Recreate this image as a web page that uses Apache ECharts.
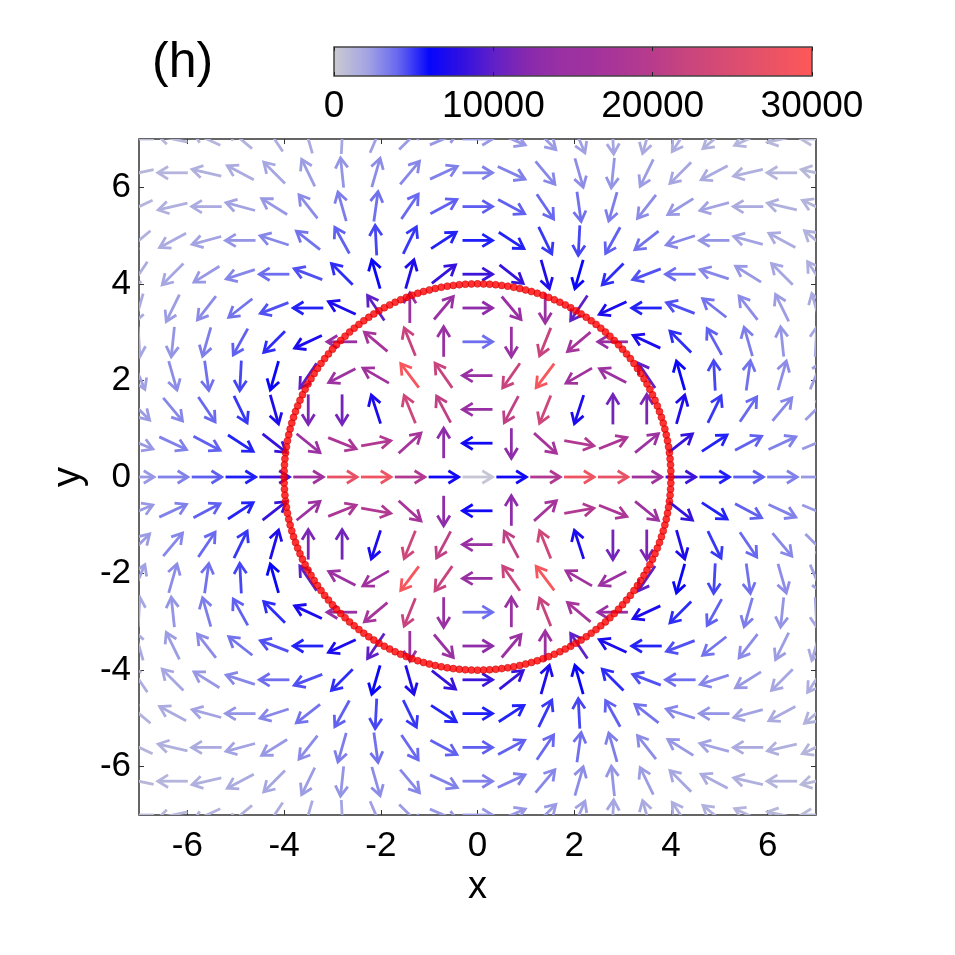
<!DOCTYPE html>
<html>
<head>
<meta charset="utf-8">
<title>(h)</title>
<script src="https://cdn.jsdelivr.net/npm/echarts@6/dist/echarts.min.js"></script>
<style>
  html, body { margin: 0; padding: 0; background: #fff; }
  #chart { width: 955px; height: 955px; }
</style>
</head>
<body>
<div id="chart"></div>
<script>
// grid positions of one quadrant (x >= 0, y >= 0); the other three are mirror images
var gridCoords = [0, 0.7, 1.4, 2.1, 2.8, 3.5, 4.2, 4.9, 5.6, 6.3, 7];

// arrow direction in degrees (0 = +x, 90 = +y), row = y index, column = x index
var quadAngle = [
  [0, 0, 0, 0, 0, 0, 0, 0, 0, 0, 0],
  [180, -90, -42, -10, 22, 39, 38, 33, 28, 25, 23],
  [180, -118, -112, -108, 90, 90, 74, 64, 56, 50, 45],
  [180, -125, -127, -150, 153, 124, 106, 93, 82, 74, 67],
  [0, -90, -112, -140, 180, 155, 135, 119, 106, 96, 87],
  [0, -50, -90, -124, -155, 180, 159, 142, 128, 116, 106],
  [0, -38, -74, -106, -135, -159, 180, 162, 148, 135, 124],
  [0, -33, -64, -93, -119, -142, -162, 180, 165, 152, 140],
  [0, -28, -56, -82, -106, -128, -148, -165, 180, 167, 155],
  [0, -25, -50, -74, -96, -116, -135, -152, -167, 180, 168],
  [0, -23, -45, -67, -87, -106, -124, -140, -155, -168, 180]
];

// magnitude, same layout
var quadMag = [
  [200, 6500, 19000, 28000, 27000, 16000, 8500, 5500, 4200, 3200, 2450],
  [6500, 13000, 17000, 19000, 18000, 15000, 8300, 5400, 4150, 3200, 2450],
  [14000, 21000, 23000, 7000, 11000, 11500, 7200, 5000, 4000, 3000, 2350],
  [14000, 22000, 29000, 16000, 15000, 10000, 6200, 4700, 3700, 2800, 2200],
  [3800, 14500, 22000, 17000, 14000, 7000, 5200, 4150, 3300, 2550, 2000],
  [13000, 14500, 15000, 10000, 7000, 5400, 4500, 3650, 2850, 2300, 1800],
  [8500, 8300, 7200, 6200, 5200, 4500, 3800, 3000, 2450, 2000, 1600],
  [5500, 5400, 5000, 4700, 4150, 3650, 3000, 2550, 2100, 1700, 1400],
  [4200, 4150, 4000, 3700, 3300, 2850, 2450, 2100, 1750, 1450, 1200],
  [3200, 3200, 3000, 2800, 2550, 2300, 2000, 1700, 1450, 1200, 1050],
  [2450, 2450, 2350, 2200, 2000, 1800, 1600, 1400, 1200, 1050, 900]
];

var axisTicks = [-6, -4, -2, 0, 2, 4, 6];
var colorbarMin = 0;
var colorbarMax = 30000;
// colormap, evenly spaced from 0 to 30000
var colorbarColors = [
  '#cacad2', '#a6a6e2', '#6868f0', '#0606fc', '#3010e0', '#6020c8',
  '#8628ae', '#9830a4', '#a0329e', '#ac3696', '#b83c8c', '#c8447e',
  '#d44a76', '#e0506c', '#ee5462', '#ff5858'
];
var circleRadius = 4;
var circleDots = 200;

var FONT = 'Liberation Sans';

// full grid from the quadrant: mirroring x or y flips the angle sign
var arrowData = [];
[-1, 1].forEach(function (sx) {
  [-1, 1].forEach(function (sy) {
    for (var j = 0; j < gridCoords.length; j++) {
      for (var i = 0; i < gridCoords.length; i++) {
        if (sx < 0 && i === 0) continue;
        if (sy < 0 && j === 0) continue;
        arrowData.push([sx * gridCoords[i], sy * gridCoords[j],
          sx * sy * quadAngle[j][i], quadMag[j][i]]);
      }
    }
  });
});

var circleData = [];
for (var k = 0; k < circleDots; k++) {
  var t = 2 * Math.PI * k / circleDots;
  circleData.push([circleRadius * Math.cos(t), circleRadius * Math.sin(t)]);
}

function renderArrow(params, api) {
  var c = api.coord([api.value(0), api.value(1)]);
  var a = api.value(2) * Math.PI / 180;
  var dx = Math.cos(a), dy = -Math.sin(a);
  var half = 15, head = 12, spread = 0.55;
  var tail = [c[0] - dx * half, c[1] - dy * half];
  var tip = [c[0] + dx * half, c[1] + dy * half];
  var back = Math.atan2(dy, dx) + Math.PI;
  function barb(s) {
    return [tip[0] + head * Math.cos(back + s * spread), tip[1] + head * Math.sin(back + s * spread)];
  }
  var color = api.visual('color');
  return {
    type: 'group',
    children: [
      { type: 'line', shape: { x1: tail[0], y1: tail[1], x2: tip[0], y2: tip[1] },
        style: { stroke: color, lineWidth: 2.8 } },
      { type: 'polyline', shape: { points: [barb(1), tip, barb(-1)] },
        style: { stroke: color, fill: null, lineWidth: 2.8 } }
    ]
  };
}

var tickLabel = { fontFamily: FONT, fontSize: 35, color: '#000' };
var frameTick = { inside: true, length: 5, lineStyle: { color: '#333' } };

var chart = echarts.init(document.getElementById('chart'));
chart.setOption({
  animation: false,
  backgroundColor: '#fff',
  graphic: [{
    type: 'text', left: 152, top: 38,
    style: { text: '(h)', font: '50px "Liberation Sans"', fill: '#000' }
  }],
  grid: [
    { left: 139, top: 139, width: 677, height: 676, show: true,
      borderColor: '#333', borderWidth: 1.5, backgroundColor: '#fff' },
    { left: 334, top: 47, width: 478, height: 29, show: true, z: 10,
      borderColor: '#444', borderWidth: 1.5, backgroundColor: 'rgba(0,0,0,0)' }
  ],
  xAxis: [
    { gridIndex: 0, type: 'value', min: -7, max: 7, position: 'bottom',
      name: 'x', nameLocation: 'middle', nameGap: 50,
      nameTextStyle: { fontFamily: FONT, fontSize: 38, color: '#000' },
      axisLine: { show: false, onZero: false },
      axisTick: Object.assign({ customValues: axisTicks }, frameTick),
      axisLabel: Object.assign({ customValues: axisTicks, margin: 14 }, tickLabel),
      splitLine: { show: false } },
    { gridIndex: 0, type: 'value', min: -7, max: 7, position: 'top',
      axisLine: { show: false, onZero: false },
      axisTick: Object.assign({ customValues: axisTicks }, frameTick),
      axisLabel: { show: false }, splitLine: { show: false } },
    { gridIndex: 1, type: 'value', min: colorbarMin, max: colorbarMax, interval: 10000,
      position: 'bottom', z: 10,
      axisLine: { show: false, onZero: false },
      axisTick: { inside: true, length: 4, lineStyle: { color: '#222' } },
      axisLabel: { margin: 12, fontFamily: FONT, fontSize: 37, color: '#000',
        formatter: function (v) { return String(v); } },
      splitLine: { show: false } },
    { gridIndex: 1, type: 'value', min: colorbarMin, max: colorbarMax, interval: 10000,
      position: 'top', z: 10,
      axisLine: { show: false, onZero: false },
      axisTick: { inside: true, length: 4, lineStyle: { color: '#222' } },
      axisLabel: { show: false }, splitLine: { show: false } }
  ],
  yAxis: [
    { gridIndex: 0, type: 'value', min: -7, max: 7, position: 'left',
      name: 'y', nameLocation: 'middle', nameGap: 48,
      nameTextStyle: { fontFamily: FONT, fontSize: 40, color: '#000' },
      axisLine: { show: false, onZero: false },
      axisTick: Object.assign({ customValues: axisTicks }, frameTick),
      axisLabel: Object.assign({ customValues: axisTicks, margin: 8 }, tickLabel),
      splitLine: { show: false } },
    { gridIndex: 0, type: 'value', min: -7, max: 7, position: 'right',
      axisLine: { show: false, onZero: false },
      axisTick: Object.assign({ customValues: axisTicks }, frameTick),
      axisLabel: { show: false }, splitLine: { show: false } },
    { gridIndex: 1, type: 'value', min: 0, max: 1, show: false }
  ],
  visualMap: {
    type: 'continuous', seriesIndex: 0, dimension: 3,
    min: colorbarMin, max: colorbarMax,
    orient: 'horizontal', left: 334, top: 47,
    itemWidth: 29, itemHeight: 478, padding: 0,
    calculable: false, hoverLink: false,
    inRange: { color: colorbarColors }
  },
  series: [
    { type: 'custom', xAxisIndex: 0, yAxisIndex: 0, clip: true, silent: true,
      encode: { x: 0, y: 1 }, renderItem: renderArrow, data: arrowData },
    { type: 'scatter', xAxisIndex: 0, yAxisIndex: 0, silent: true, z: 5,
      symbol: 'circle', symbolSize: 7,
      itemStyle: { color: '#ff0000', borderColor: '#c00000', borderWidth: 0.6 },
      data: circleData }
  ]
});
</script>
</body>
</html>
